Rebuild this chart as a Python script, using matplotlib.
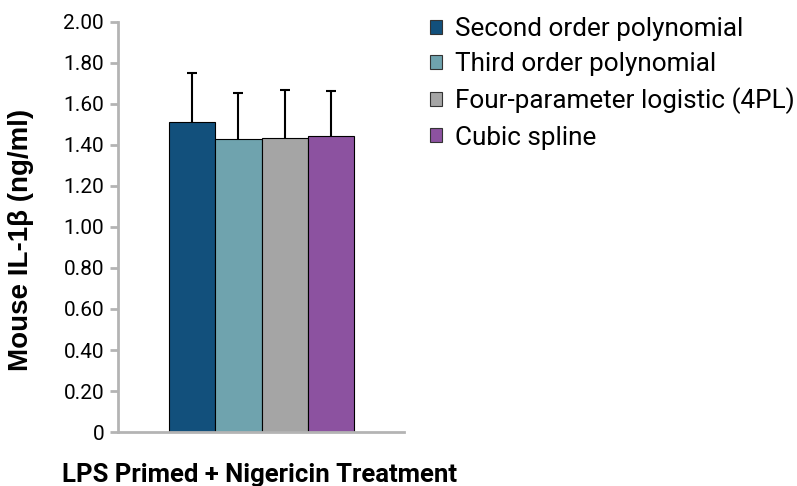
import matplotlib.pyplot as plt
import matplotlib.patches as patches

plt.rcParams['font.family'] = ['Roboto', 'DejaVu Sans']

methods = ["Second order polynomial", "Third order polynomial",
           "Four-parameter logistic (4PL)", "Cubic spline"]
means = [1.514, 1.429, 1.436, 1.444]
errors = [0.239, 0.226, 0.230, 0.217]
colors = ["#12507c", "#6fa3ae", "#a5a5a5", "#8c52a0"]
yticks = [0, 0.2, 0.4, 0.6, 0.8, 1.0, 1.2, 1.4, 1.6, 1.8, 2.0]
ytick_labels = ["0", "0.20", "0.40", "0.60", "0.80", "1.00",
                "1.20", "1.40", "1.60", "1.80", "2.00"]

fig = plt.figure(figsize=(7.97, 4.86), dpi=100)
ax = fig.add_axes([0.148, 0.111, 0.359, 0.844])

width = 0.1617
n = len(means)
xs = [0.502 + (i - (n - 1) / 2) * width for i in range(n)]
for x, m, e, c in zip(xs, means, errors, colors):
    ax.bar(x, m, width=width, color=c, edgecolor="black", linewidth=0.8)
    eb = ax.errorbar(x, m, yerr=[[0], [e]], fmt="none", ecolor="black",
                     elinewidth=1.5, capsize=3.5, capthick=1.5)
    # only the upper whisker is shown
    eb[1][0].set_visible(False)

ax.set_xlim(0, 1)
ax.set_ylim(0, 2.0)
ax.set_yticks(yticks)
ax.set_yticklabels(ytick_labels)
ax.set_xticks([])
for side in ["top", "right"]:
    ax.spines[side].set_visible(False)
for side in ["left", "bottom"]:
    ax.spines[side].set_color("#b4b4b4")
    ax.spines[side].set_linewidth(2)
ax.tick_params(axis="y", colors="#b4b4b4", width=2, length=6,
               labelcolor="black", labelsize=15, pad=4)

fig.text(0.026, 1 - 240 / 486, "Mouse IL-1β (ng/ml)", rotation=90,
         fontsize=20, fontweight="bold", ha="center", va="center",
         family=["Liberation Sans", "DejaVu Sans"])
fig.text(62 / 797, 0.009, "LPS Primed + Nigericin Treatment",
         fontsize=18.5, fontweight="bold", ha="left", va="baseline")

handles = [patches.Patch(facecolor=c, edgecolor="#333333", linewidth=0.8)
           for c in colors]
fig.legend(handles, methods, loc="upper left",
           bbox_to_anchor=(430 / 797, 1 - 17 / 486),
           frameon=False, fontsize=18.8, borderpad=0, borderaxespad=0,
           handlelength=0.45, handleheight=0.45,
           handletextpad=0.5, labelspacing=0.43)

fig.savefig("out.png", dpi=100)
